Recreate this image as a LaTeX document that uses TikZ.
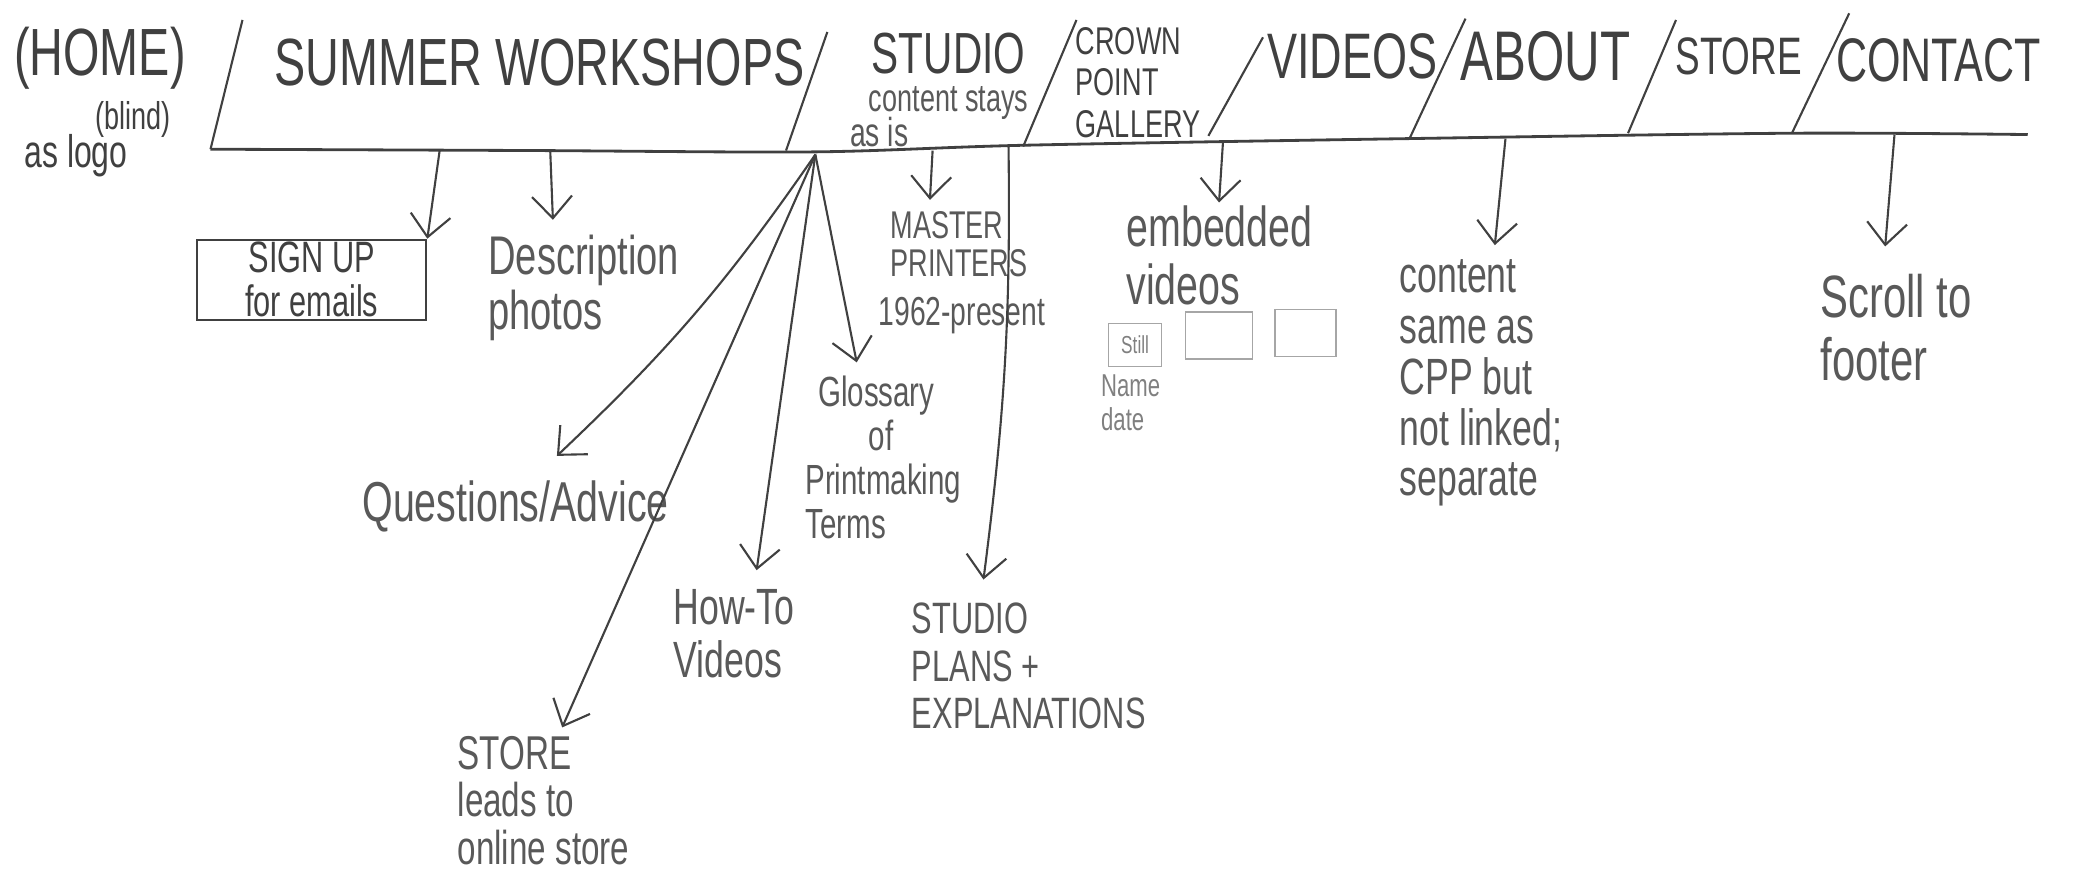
\documentclass[tikz,border=0pt]{standalone}
\usepackage{fontspec}
\setmainfont{Liberation Sans}[FakeStretch=0.7]
\usetikzlibrary{arrows.meta, calc}

\definecolor{pencil}{gray}{0.25}
\definecolor{softpencil}{gray}{0.35}

\begin{document}
\begin{tikzpicture}[x=0.013323cm, y=-0.013323cm,
  tab/.style={inner sep=0pt, text=pencil},
  note/.style={inner sep=0pt, text=softpencil, align=left},
  arr/.style={draw=pencil, line width=0.6pt, -{Straight Barb[length=2.2mm, width=4mm]}},
  thumb/.style={draw=black!35, line width=0.5pt, inner sep=0pt}]
\useasboundingbox (0,0) rectangle (1568,656);

% menu bar
\draw[pencil, line width=0.8pt] plot[smooth] coordinates {(158,112) (400,113) (612,114) (770,109) (1060,104) (1345,100) (1522,101)};
\foreach \xa/\ya/\xb/\yb in {158/112/182/15, 590/113/621/24, 768/110/808/15, 907/102/948/28, 1058/104/1100/14, 1222/100/1258/15, 1345/100/1388/10}
  \draw[pencil, line width=0.6pt] (\xa,\ya) -- (\xb,\yb);

\node[tab, font=\fontsize{19}{19}\selectfont] (home) at (75,44) {(HOME)};
\node[tab, font=\fontsize{11}{11}\selectfont] (blind) at (100,90) {(blind)};
\node[tab, font=\fontsize{13}{13}\selectfont] (logo) at (57,117) {as logo};
\node[tab, font=\fontsize{19}{19}\selectfont] (workshops) at (405,47) {SUMMER WORKSHOPS};
\node[tab, font=\fontsize{16.5}{16.5}\selectfont] (studio) at (712,40) {STUDIO};
\node[note, font=\fontsize{11}{11}\selectfont] (stays) at (712,77) {content stays};
\node[note, font=\fontsize{11.5}{11.5}\selectfont] (asis) at (660,99) {as is};
\node[tab, align=left, anchor=north west, font=\fontsize{11}{11.8}\selectfont] (gallery) at (807,20) {CROWN\\POINT\\GALLERY};
\node[tab, font=\fontsize{18.3}{18.3}\selectfont] (videos) at (1015,42) {VIDEOS};
\node[tab, font=\fontsize{20}{20}\selectfont] (about) at (1160,42) {ABOUT};
\node[tab, font=\fontsize{15}{15}\selectfont] (store) at (1305,42) {STORE};
\node[tab, font=\fontsize{17.5}{17.5}\selectfont] (contact) at (1455,45) {CONTACT};

% where the arrows leave the bar
\coordinate (b-sign) at (330,113);
\coordinate (b-desc) at (413,113);
\coordinate (b-fan) at (612,116);
\coordinate (b-master) at (700,113);
\coordinate (b-plans) at (757,110);
\coordinate (b-embed) at (918,106);
\coordinate (b-about) at (1130,104);
\coordinate (b-contact) at (1422,101);

\node[tab, draw=pencil, line width=0.6pt, align=center, minimum width=2.29cm, minimum height=0.8cm, font=\fontsize{12.5}{12.5}\selectfont] (signup) at (234,210) {SIGN UP\\for emails};
\node[note, anchor=north west, font=\fontsize{15.5}{15.5}\selectfont] (desc) at (366,176) {Description\\photos};
\node[note, anchor=north west, font=\fontsize{11}{11}\selectfont] (master) at (668,158) {MASTER\\PRINTERS};
\node[note, font=\fontsize{11.5}{11.5}\selectfont] (since) at (722,237) {1962-present};
\node[note, anchor=north west, font=\fontsize{12}{12.5}\selectfont] (gloss) at (604,282) {\hspace{0.3em}Glossary\\\hspace{1.5em}of\\Printmaking\\Terms};
\node[note, font=\fontsize{16}{16}\selectfont] (qa) at (387,380) {Questions/Advice};
\node[note, anchor=north west, font=\fontsize{14.5}{15}\selectfont] (howto) at (505,442) {How-To\\Videos};
\node[note, anchor=north west, font=\fontsize{12.5}{13.5}\selectfont] (plans) at (684,452) {STUDIO\\PLANS +\\EXPLANATIONS};
\node[note, anchor=north west, font=\fontsize{13.5}{13.5}\selectfont] (shop) at (343,552) {STORE\\leads to\\online store};
\node[note, anchor=north west, font=\fontsize{16}{16.5}\selectfont] (embed) at (845,154) {embedded\\videos};
\node[thumb, minimum width=0.53cm, minimum height=0.43cm, text=black!50, font=\fontsize{7}{7}\selectfont] (still) at (852,259) {Still};
\node[thumb, minimum width=0.67cm, minimum height=0.47cm] (thumb2) at (915,252) {};
\node[thumb, minimum width=0.61cm, minimum height=0.47cm] (thumb3) at (980,250) {};
\node[note, anchor=north west, text=black!50, font=\fontsize{9}{9.5}\selectfont] (caption) at (826,281) {Name\\date};
\node[note, anchor=north west, font=\fontsize{14.5}{14.5}\selectfont] (cpp) at (1050,194) {content\\same as\\CPP but\\not linked;\\separate};
\node[note, anchor=north west, font=\fontsize{17}{18}\selectfont] (footer) at (1366,205) {Scroll to\\footer};

\draw[arr] (b-sign) -- (signup.north east);
\draw[arr] (b-desc) -- ($(b-desc |- desc.north)+(2,-11)$);
\draw[arr] (b-master) -- ($(b-master |- master.north)+(-2,-8)$);
\draw[arr] (b-fan) to[bend left=6] ($(qa.north)+(31,-18)$);
\draw[arr] (b-fan) -- ($(shop.north)+(14,-6)$);
\draw[arr] (b-fan) -- ($(howto.north)+(17,-14)$);
\draw[arr] (b-fan) -- ($(gloss.north)+(-20,-10)$);
\draw[arr] (b-plans) to[bend left=4] ($(plans.north)+(-34,-17)$);
\draw[arr] (b-embed) -- ($(b-embed |- embed.north)+(-3,-2)$);
\draw[arr] (b-about) -- ($(b-about |- cpp.north)+(-8,-10)$);
\draw[arr] (b-contact) -- ($(b-contact |- footer.north)+(-7,-20)$);
\end{tikzpicture}
\end{document}
